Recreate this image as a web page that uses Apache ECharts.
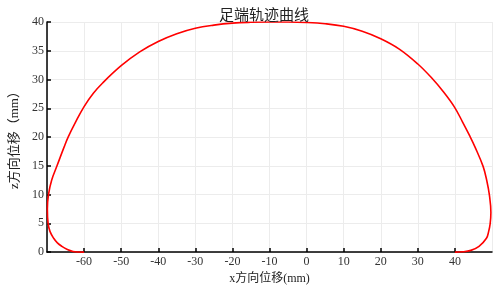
<!DOCTYPE html>
<html>
<head>
<meta charset="utf-8">
<script src="https://cdn.jsdelivr.net/npm/echarts@6/dist/echarts.min.js"></script>
<style>html,body{margin:0;padding:0;background:#fff;}#c{width:495px;height:290px;}</style>
</head>
<body>
<div id="c"></div>
<script>
const titleText = '足端轨迹曲线';
const xName = 'x方向位移(mm)';
const yName = 'z方向位移（mm）';
const xPos = [-60, -61.5, -63, -64.5, -66, -67.2, -68.2, -69.2, -69.7, -69.9, -69.6, -68.75, -67.3, -65.4, -64.3, -62.3, -60, -57.5, -55, -50, -45, -40, -35, -30, -25, -20, -15, -10, -5, 0, 5, 10, 15, 20, 25, 30, 33.7, 37, 39.8, 42, 44, 45.4, 47.6, 48.6, 49.3, 49.7, 49.5, 49.1, 48.5, 46.5, 44.3, 42, 40];
const zPos = [0, 0.02, 0.12, 0.45, 1.0, 1.6, 2.4, 3.6, 5, 7.5, 10, 12.5, 15, 18.25, 20, 22.6, 25.3, 27.6, 29.4, 32.4, 34.8, 36.6, 37.95, 38.9, 39.45, 39.8, 39.95, 40, 40, 39.92, 39.7, 39.25, 38.4, 37.1, 35.3, 32.7, 30.3, 27.8, 25.3, 22.7, 20.2, 18.3, 14.9, 12.4, 9.9, 6.9, 4.9, 3.6, 2.4, 1.0, 0.3, 0.05, 0];

const chart = echarts.init(document.getElementById('c'), null, {renderer: 'canvas'});
const serif = "'Liberation Serif', 'Noto Sans CJK SC', serif";
const axisCommon = {
  axisLine: {show: true, onZero: false, lineStyle: {color: '#000', width: 1.5}},
  axisTick: {show: true, inside: true, length: 4, lineStyle: {color: '#000', width: 1.5}},
  splitLine: {show: true, lineStyle: {color: '#ececec', width: 1}},
  axisLabel: {color: '#333', fontFamily: serif, fontSize: 12, showMinLabel: false, showMaxLabel: false},
  nameTextStyle: {color: '#222', fontFamily: serif, fontSize: 12}
};
chart.setOption({
  animation: false,
  title: {text: titleText, left: 214, top: 2, textStyle: {fontFamily: "'Noto Sans CJK SC'", fontSize: 15, fontWeight: 'normal', color: '#222'}},
  grid: {left: 28, right: 3, top: 22, bottom: 32, containLabel: false},
  xAxis: Object.assign({}, axisCommon, {
    type: 'value', min: -70, max: 50, interval: 10,
    name: xName, nameLocation: 'middle', nameGap: 18,
    axisLabel: Object.assign({}, axisCommon.axisLabel, {margin: 4})
  }),
  yAxis: Object.assign({}, axisCommon, {
    type: 'value', min: 0, max: 40, interval: 5,
    name: yName, nameLocation: 'middle', nameGap: 26, nameRotate: 90,
    axisLabel: Object.assign({}, axisCommon.axisLabel, {showMinLabel: true, showMaxLabel: true, margin: 3}),
    nameTextStyle: Object.assign({}, axisCommon.nameTextStyle, {fontSize: 13})
  }),
  series: [{
    type: 'line',
    data: xPos.map((x, i) => [x, zPos[i]]),
    smooth: 0.4,
    showSymbol: false,
    lineStyle: {color: '#ff0000', width: 1.6}
  }]
});
</script>
</body>
</html>
